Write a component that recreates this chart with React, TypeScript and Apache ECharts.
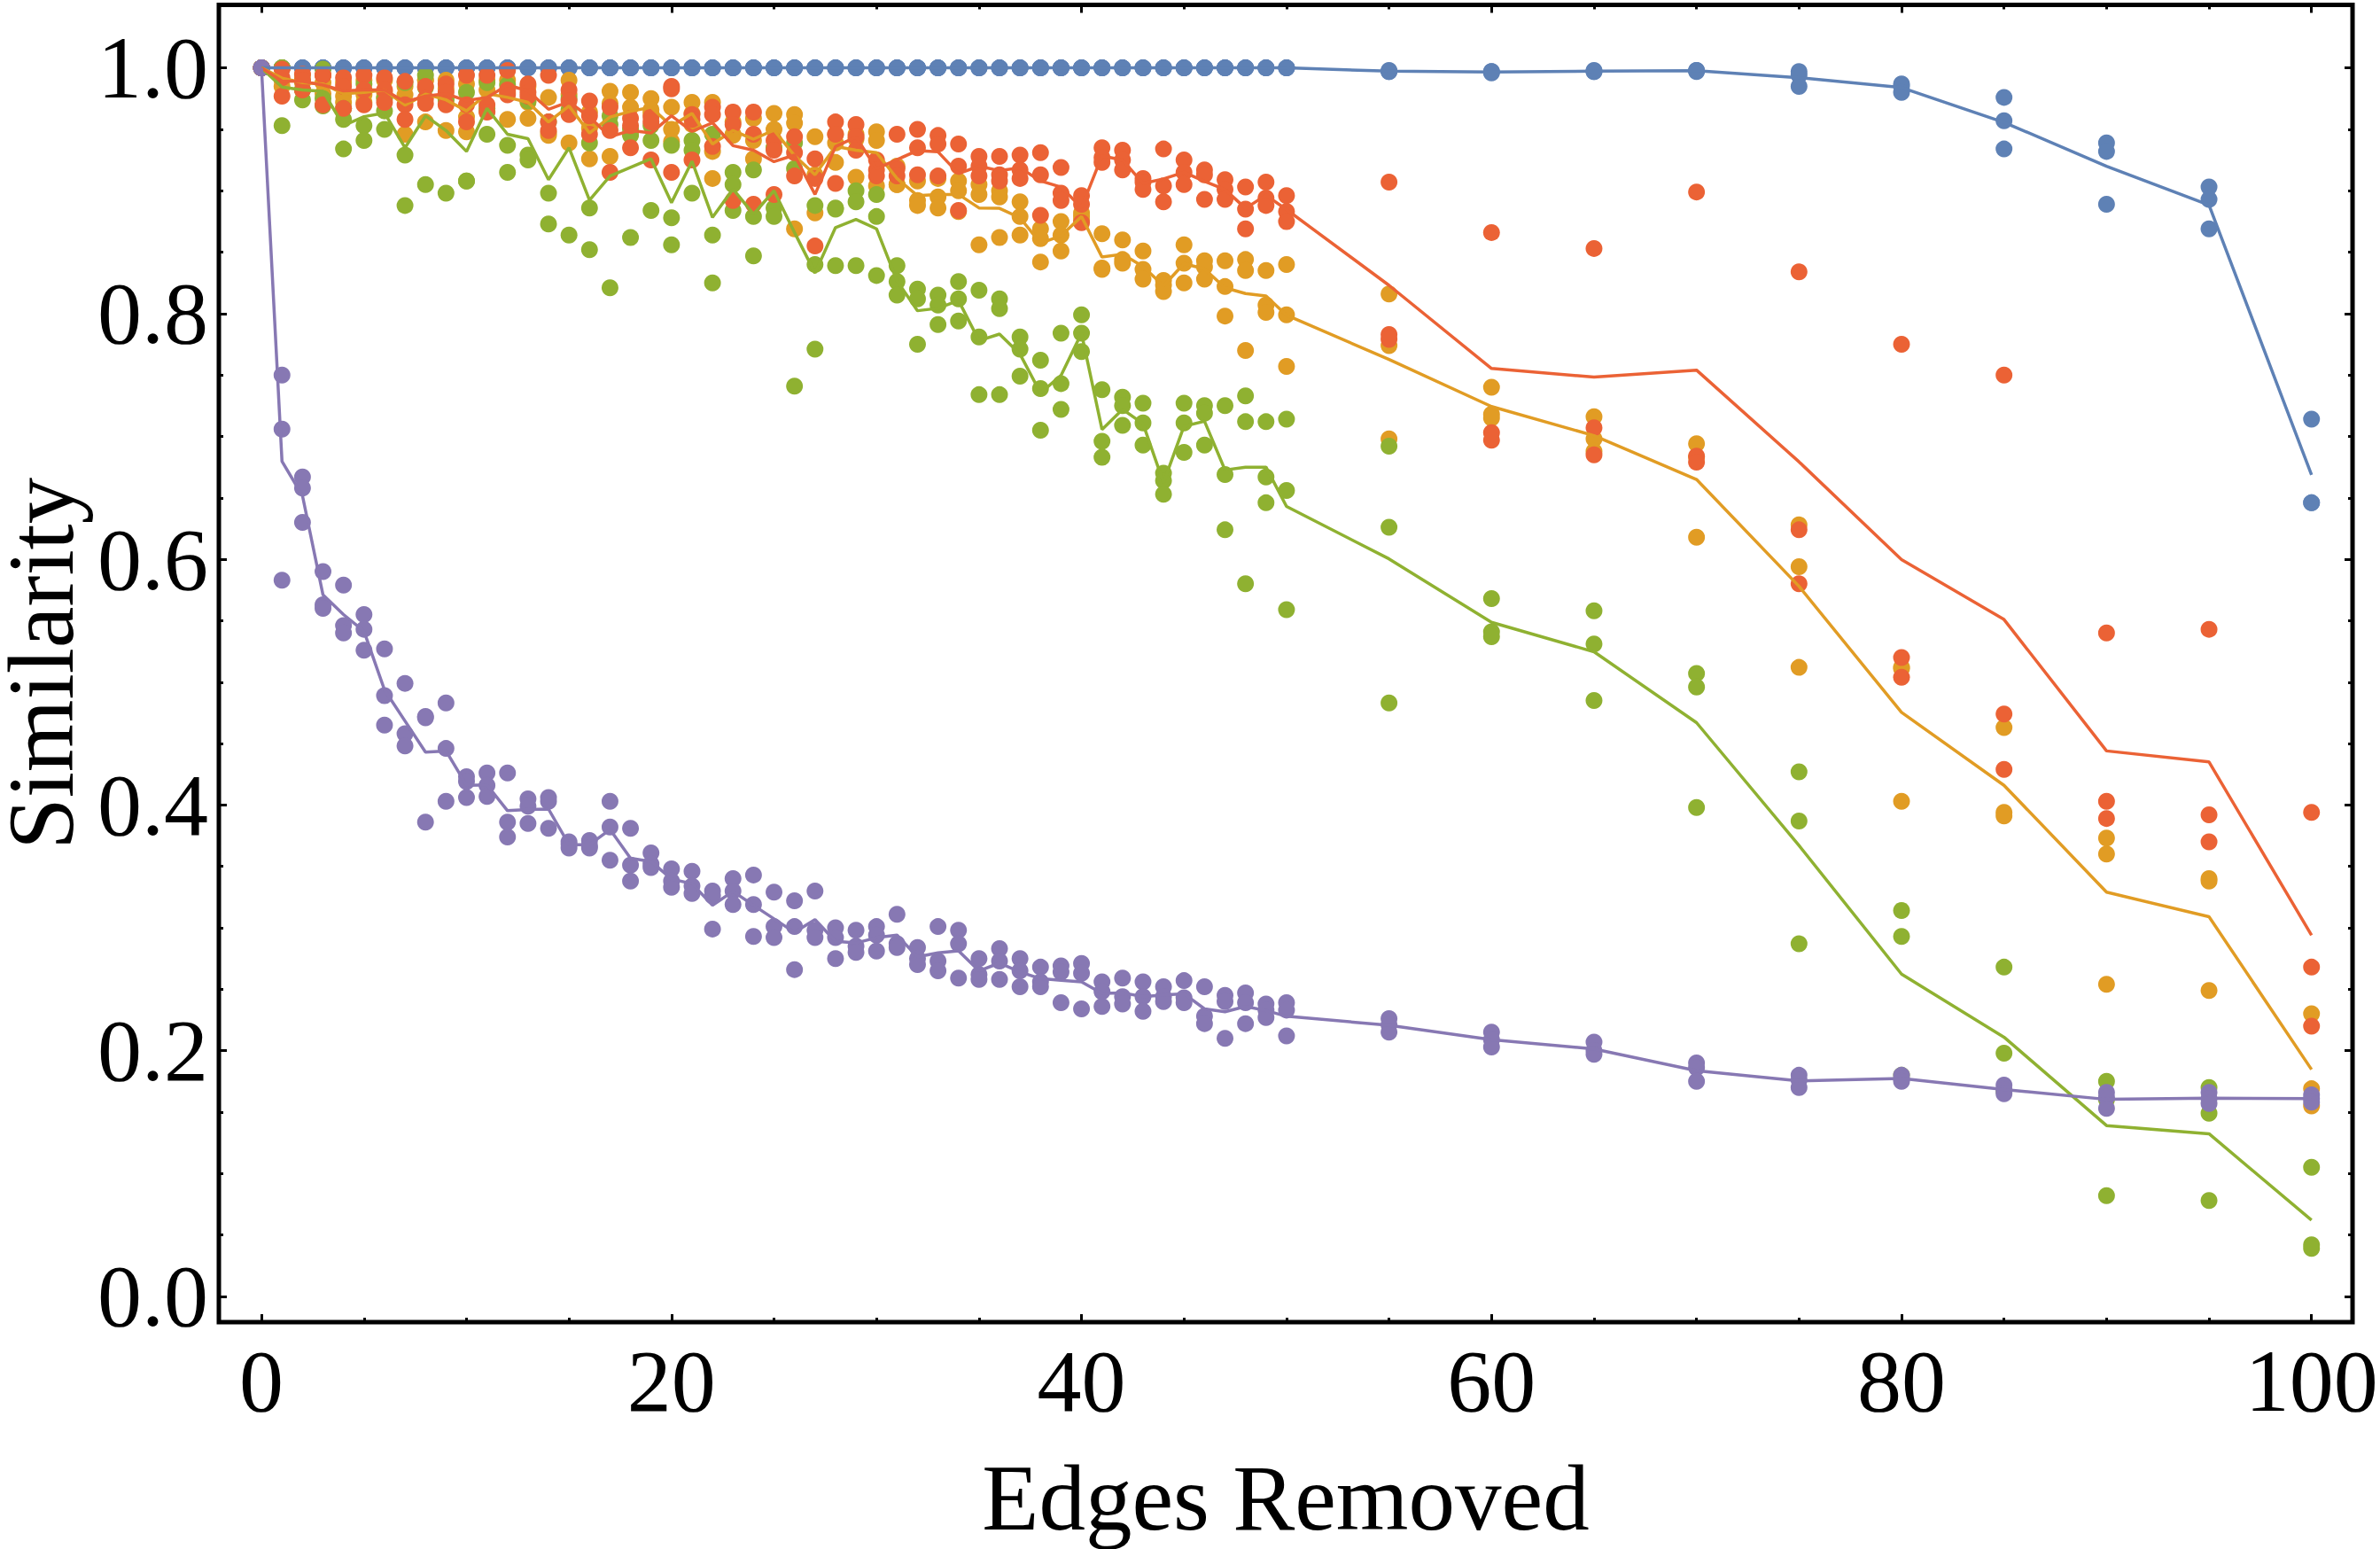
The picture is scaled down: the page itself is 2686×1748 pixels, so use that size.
import React, { useEffect, useRef } from "react";
import * as echarts from "echarts";

// Number of edges removed at each sample step
const edgesRemoved = [
  0, 1, 2, 3, 4, 5, 6, 7, 8, 9, 10, 11, 12, 13, 14, 15, 16, 17, 18, 19, 20,
  21, 22, 23, 24, 25, 26, 27, 28, 29, 30, 31, 32, 33, 34, 35, 36, 37, 38, 39, 40,
  41, 42, 43, 44, 45, 46, 47, 48, 49, 50, 55, 60, 65, 70, 75, 80, 85, 90, 95, 100,
];

// Three runs per step for every measure
const blueRuns = [
  [1, 1, 1], [1, 1, 1], [1, 1, 1], [1, 1, 1], [1, 1, 1], [1, 1, 1], [1, 1, 1], [1, 1, 1], [1, 1, 1], [1, 1, 1], [1, 1, 1],
  [1, 1, 1], [1, 1, 1], [1, 1, 1], [1, 1, 1], [1, 1, 1], [1, 1, 1], [1, 1, 1], [1, 1, 1], [1, 1, 1], [1, 1, 1],
  [1, 1, 1], [1, 1, 1], [1, 1, 1], [1, 1, 1], [1, 1, 1], [1, 1, 1], [1, 1, 1], [1, 1, 1], [1, 1, 1], [1, 1, 1],
  [1, 1, 1], [1, 1, 1], [1, 1, 1], [1, 1, 1], [1, 1, 1], [1, 1, 1], [1, 1, 1], [1, 1, 1], [1, 1, 1], [1, 1, 1],
  [1, 1, 1], [1, 1, 1], [1, 1, 1], [1, 1, 1], [1, 1, 1], [1, 1, 1], [1, 1, 1], [1, 1, 1], [1, 1, 1], [1, 1, 1],
  [0.998, 0.997, 0.997], [0.997, 0.997, 0.996], [0.998, 0.997, 0.997], [0.998, 0.998, 0.997],
  [0.997, 0.994, 0.985], [0.987, 0.985, 0.98], [0.976, 0.957, 0.934], [0.939, 0.932, 0.889],
  [0.903, 0.893, 0.869], [0.714, 0.646, 0.646],
];

const orangeRuns = [
  [1, 1, 1], [1.0, 0.99, 0.985], [0.994, 0.988, 0.982], [0.994, 0.988, 0.979], [0.988, 0.977, 0.972],
  [0.99, 0.978, 0.972], [0.99, 0.98, 0.976], [0.985, 0.978, 0.946], [0.99, 0.99, 0.956], [0.99, 0.983, 0.949],
  [0.987, 0.96, 0.948], [0.99, 0.982, 0.965], [0.99, 0.98, 0.958], [0.985, 0.972, 0.959], [0.976, 0.947, 0.945],
  [0.99, 0.978, 0.939], [0.964, 0.951, 0.926], [0.981, 0.971, 0.928], [0.98, 0.968, 0.946], [0.975, 0.966, 0.963],
  [0.968, 0.95, 0.94], [0.972, 0.963, 0.954], [0.972, 0.932, 0.91], [0.956, 0.946, 0.945], [0.959, 0.941, 0.926],
  [0.963, 0.95, 0.935], [0.962, 0.955, 0.869], [0.944, 0.913, 0.882], [0.946, 0.939, 0.923], [0.946, 0.942, 0.911],
  [0.948, 0.941, 0.904], [0.92, 0.905, 0.905], [0.908, 0.892, 0.888], [0.91, 0.895, 0.886], [0.908, 0.9, 0.883],
  [0.905, 0.897, 0.856], [0.9, 0.895, 0.862], [0.891, 0.879, 0.864], [0.869, 0.861, 0.842], [0.875, 0.864, 0.851],
  [0.882, 0.879, 0.876], [0.865, 0.837, 0.836], [0.86, 0.844, 0.841], [0.851, 0.836, 0.828], [0.827, 0.823, 0.818],
  [0.856, 0.841, 0.825], [0.843, 0.838, 0.828], [0.843, 0.822, 0.798], [0.844, 0.835, 0.77], [0.835, 0.807, 0.801],
  [0.84, 0.799, 0.757],
  [0.816, 0.774, 0.698], [0.74, 0.718, 0.715], [0.716, 0.698, 0.688], [0.694, 0.683, 0.618], [0.628, 0.594, 0.512],
  [0.512, 0.511, 0.403], [0.463, 0.394, 0.391], [0.373, 0.36, 0.254], [0.34, 0.338, 0.249], [0.23, 0.169, 0.155],
];

const greenRuns = [
  [1, 1, 1], [1.0, 1.0, 0.953], [0.99, 0.982, 0.974], [0.999, 0.975, 0.969], [0.967, 0.958, 0.934],
  [0.987, 0.953, 0.941], [0.975, 0.965, 0.95], [0.988, 0.929, 0.888], [0.994, 0.984, 0.905], [0.975, 0.974, 0.898],
  [0.98, 0.908, 0.908], [0.988, 0.967, 0.946], [0.986, 0.937, 0.915], [0.973, 0.929, 0.925], [0.956, 0.898, 0.873],
  [0.975, 0.966, 0.864], [0.939, 0.886, 0.852], [0.961, 0.954, 0.821], [0.95, 0.945, 0.862], [0.953, 0.941, 0.884],
  [0.937, 0.878, 0.856], [0.941, 0.933, 0.898], [0.946, 0.864, 0.825], [0.915, 0.905, 0.884], [0.917, 0.879, 0.847],
  [0.935, 0.886, 0.879], [0.939, 0.918, 0.741], [0.888, 0.84, 0.771], [0.886, 0.885, 0.839], [0.9, 0.891, 0.839],
  [0.897, 0.879, 0.831], [0.839, 0.826, 0.815], [0.82, 0.812, 0.775], [0.815, 0.807, 0.791], [0.826, 0.812, 0.794],
  [0.819, 0.781, 0.734], [0.812, 0.804, 0.734], [0.781, 0.771, 0.749], [0.762, 0.739, 0.705], [0.784, 0.743, 0.722],
  [0.799, 0.784, 0.769], [0.738, 0.696, 0.683], [0.732, 0.725, 0.709], [0.727, 0.711, 0.693], [0.67, 0.664, 0.653],
  [0.727, 0.711, 0.687], [0.725, 0.719, 0.693], [0.725, 0.669, 0.624], [0.733, 0.712, 0.58], [0.712, 0.667, 0.646],
  [0.714, 0.656, 0.559],
  [0.692, 0.626, 0.483], [0.568, 0.541, 0.537], [0.558, 0.531, 0.485], [0.507, 0.496, 0.398], [0.427, 0.387, 0.287],
  [0.314, 0.293, 0.18], [0.268, 0.198, 0.167], [0.175, 0.16, 0.082], [0.17, 0.149, 0.078], [0.105, 0.042, 0.039],
];

const redRuns = [
  [1, 1, 1], [0.999, 0.992, 0.977], [0.995, 0.99, 0.982], [0.994, 0.994, 0.97], [0.992, 0.985, 0.967],
  [0.994, 0.982, 0.97], [0.992, 0.982, 0.972], [0.989, 0.97, 0.958], [0.985, 0.975, 0.971], [0.987, 0.98, 0.97],
  [0.994, 0.97, 0.956], [0.994, 0.97, 0.964], [0.998, 0.982, 0.978], [0.987, 0.98, 0.977], [0.994, 0.956, 0.949],
  [0.982, 0.973, 0.962], [0.973, 0.961, 0.946], [0.968, 0.949, 0.915], [0.959, 0.953, 0.935], [0.96, 0.956, 0.925],
  [0.985, 0.983, 0.915], [0.962, 0.958, 0.925], [0.968, 0.962, 0.936], [0.964, 0.954, 0.892], [0.964, 0.946, 0.889],
  [0.941, 0.933, 0.897], [0.944, 0.931, 0.912], [0.926, 0.91, 0.855], [0.956, 0.946, 0.906], [0.954, 0.944, 0.933],
  [0.925, 0.917, 0.912], [0.946, 0.918, 0.912], [0.95, 0.935, 0.913], [0.945, 0.938, 0.912], [0.938, 0.92, 0.884],
  [0.928, 0.92, 0.912], [0.928, 0.913, 0.908], [0.929, 0.917, 0.91], [0.931, 0.913, 0.88], [0.919, 0.898, 0.892],
  [0.896, 0.889, 0.874], [0.935, 0.927, 0.923], [0.933, 0.925, 0.917], [0.91, 0.907, 0.901], [0.934, 0.904, 0.891],
  [0.925, 0.915, 0.905], [0.917, 0.913, 0.893], [0.909, 0.901, 0.893], [0.903, 0.885, 0.869], [0.907, 0.894, 0.888],
  [0.896, 0.883, 0.875],
  [0.907, 0.783, 0.779], [0.866, 0.703, 0.697], [0.853, 0.707, 0.685], [0.899, 0.684, 0.679], [0.834, 0.624, 0.58],
  [0.775, 0.52, 0.504], [0.75, 0.474, 0.429], [0.54, 0.403, 0.389], [0.543, 0.392, 0.37], [0.394, 0.268, 0.22],
];

const purpleRuns = [
  [1, 1, 1], [0.75, 0.706, 0.583], [0.667, 0.658, 0.63], [0.59, 0.563, 0.56], [0.579, 0.546, 0.54],
  [0.555, 0.543, 0.526], [0.527, 0.489, 0.465], [0.499, 0.458, 0.448], [0.472, 0.471, 0.386], [0.483, 0.446, 0.403],
  [0.423, 0.419, 0.406], [0.426, 0.416, 0.407], [0.426, 0.386, 0.374], [0.405, 0.399, 0.385], [0.406, 0.403, 0.381],
  [0.37, 0.368, 0.365], [0.371, 0.367, 0.365], [0.403, 0.382, 0.355], [0.381, 0.351, 0.338], [0.361, 0.352, 0.349],
  [0.348, 0.338, 0.333], [0.346, 0.334, 0.328], [0.33, 0.326, 0.299], [0.34, 0.33, 0.319], [0.343, 0.319, 0.293],
  [0.329, 0.301, 0.292], [0.322, 0.301, 0.266], [0.33, 0.298, 0.292], [0.3, 0.292, 0.275], [0.298, 0.285, 0.28],
  [0.301, 0.294, 0.281], [0.311, 0.287, 0.284], [0.284, 0.275, 0.27], [0.301, 0.273, 0.265], [0.298, 0.287, 0.259],
  [0.275, 0.262, 0.258], [0.283, 0.273, 0.258], [0.275, 0.265, 0.252], [0.268, 0.256, 0.252], [0.269, 0.264, 0.239],
  [0.271, 0.263, 0.234], [0.256, 0.248, 0.236], [0.259, 0.244, 0.238], [0.256, 0.244, 0.232], [0.252, 0.244, 0.24],
  [0.257, 0.243, 0.239], [0.252, 0.228, 0.222], [0.245, 0.24, 0.21], [0.247, 0.239, 0.222], [0.238, 0.233, 0.227],
  [0.239, 0.233, 0.212],
  [0.226, 0.221, 0.215], [0.215, 0.209, 0.203], [0.207, 0.2, 0.197], [0.19, 0.186, 0.175], [0.18, 0.176, 0.17],
  [0.18, 0.177, 0.175], [0.172, 0.168, 0.165], [0.166, 0.162, 0.153], [0.166, 0.161, 0.157], [0.164, 0.161, 0.158],
];

// Tick positions
const xMajorTicks = [0, 20, 40, 60, 80, 100];
const xMinorTicks = [5, 10, 15, 25, 30, 35, 45, 50, 55, 65, 70, 75, 85, 90, 95];
const yMajorTicks = [0, 0.2, 0.4, 0.6, 0.8, 1.0];
const yMinorTicks = [0.05, 0.1, 0.15, 0.25, 0.3, 0.35, 0.45, 0.5, 0.55, 0.65, 0.7, 0.75, 0.85, 0.9, 0.95];

const X_MIN = -2.08;
const X_MAX = 102;
const Y_MIN = -0.021;
const Y_MAX = 1.0513;

const FONT = "'Liberation Serif', 'Times New Roman', serif";

const measures = [
  { name: "blue", color: "#5E81B5", runs: blueRuns },
  { name: "orange", color: "#E19C24", runs: orangeRuns },
  { name: "green", color: "#8FB131", runs: greenRuns },
  { name: "red", color: "#EB6235", runs: redRuns },
  { name: "purple", color: "#8778B3", runs: purpleRuns },
];

const runPoints = (runs: number[][]) =>
  runs.flatMap((r, i) => r.map((v) => [edgesRemoved[i], v]));

const runMeans = (runs: number[][]) =>
  runs.map((r, i) => [edgesRemoved[i], r.reduce((a, b) => a + b, 0) / r.length]);

const tickStyle = { color: "#000", width: 3 };

// Frame ticks sit on the grid border, never on the zero line
const hiddenLine = { show: false, onZero: false };

function xAxisFor(position: "bottom" | "top", ticks: number[], length: number, withLabels: boolean) {
  return {
    type: "value",
    min: X_MIN,
    max: X_MAX,
    position,
    axisLine: hiddenLine,
    splitLine: { show: false },
    axisTick: { show: true, inside: true, length, customValues: ticks, lineStyle: tickStyle },
    axisLabel: withLabels
      ? { show: true, customValues: xMajorTicks, fontSize: 100, fontFamily: FONT, color: "#000", margin: 16 }
      : { show: false },
  };
}

function yAxisFor(position: "left" | "right", ticks: number[], length: number, withLabels: boolean) {
  return {
    type: "value",
    min: Y_MIN,
    max: Y_MAX,
    position,
    axisLine: hiddenLine,
    splitLine: { show: false },
    axisTick: { show: true, inside: true, length, customValues: ticks, lineStyle: tickStyle },
    axisLabel: withLabels
      ? {
          show: true,
          customValues: yMajorTicks,
          formatter: (v: number) => v.toFixed(1),
          fontSize: 100,
          fontFamily: FONT,
          color: "#000",
          margin: 12,
        }
      : { show: false },
  };
}

export default function App() {
  const ref = useRef<HTMLDivElement>(null);

  useEffect(() => {
    if (!ref.current) return;
    const chart = echarts.init(ref.current, null, { renderer: "svg" });

    const xAxes: any[] = [
      {
        ...xAxisFor("bottom", xMajorTicks, 9, true),
        name: "Edges Removed",
        nameLocation: "middle",
        nameGap: 146,
        nameTextStyle: { fontSize: 105, fontFamily: FONT, color: "#000" },
      },
      xAxisFor("bottom", xMinorTicks, 5, false),
      xAxisFor("top", xMajorTicks, 9, false),
      xAxisFor("top", xMinorTicks, 5, false),
    ];
    const yAxes: any[] = [
      {
        ...yAxisFor("left", yMajorTicks, 9, true),
        name: "Similarity",
        nameLocation: "middle",
        nameGap: 146,
        nameTextStyle: { fontSize: 105, lineHeight: 70, fontFamily: FONT, color: "#000" },
      },
      yAxisFor("left", yMinorTicks, 5, false),
      yAxisFor("right", yMajorTicks, 9, false),
      yAxisFor("right", yMinorTicks, 5, false),
    ];

    const dotSeries = measures.map((m, k) => ({
      type: "scatter",
      name: m.name,
      xAxisIndex: 0,
      yAxisIndex: 0,
      symbol: "circle",
      symbolSize: 19,
      itemStyle: { color: m.color, opacity: 1 },
      data: runPoints(m.runs),
      z: 2 + k * 0.01,
      silent: true,
    }));

    const meanSeries = measures.map((m, k) => ({
      type: "line",
      name: m.name + " mean",
      xAxisIndex: 0,
      yAxisIndex: 0,
      showSymbol: false,
      symbol: "none",
      lineStyle: { color: m.color, width: 3.5 },
      data: runMeans(m.runs),
      z: 3 + k * 0.01,
      silent: true,
    }));

    chart.setOption({
      animation: false,
      backgroundColor: "#ffffff",
      grid: {
        left: 247,
        right: 31,
        top: 5.5,
        bottom: 256,
        containLabel: false,
        outerBoundsMode: "none",
        show: true,
        borderColor: "#000",
        borderWidth: 5,
        backgroundColor: "transparent",
      },
      xAxis: xAxes,
      yAxis: yAxes,
      series: [...dotSeries, ...meanSeries],
    });

    return () => chart.dispose();
  }, []);

  return (
    <div
      ref={ref}
      style={{ position: "absolute", left: 0, top: 0, width: 2686, height: 1748, background: "#fff" }}
    />
  );
}
